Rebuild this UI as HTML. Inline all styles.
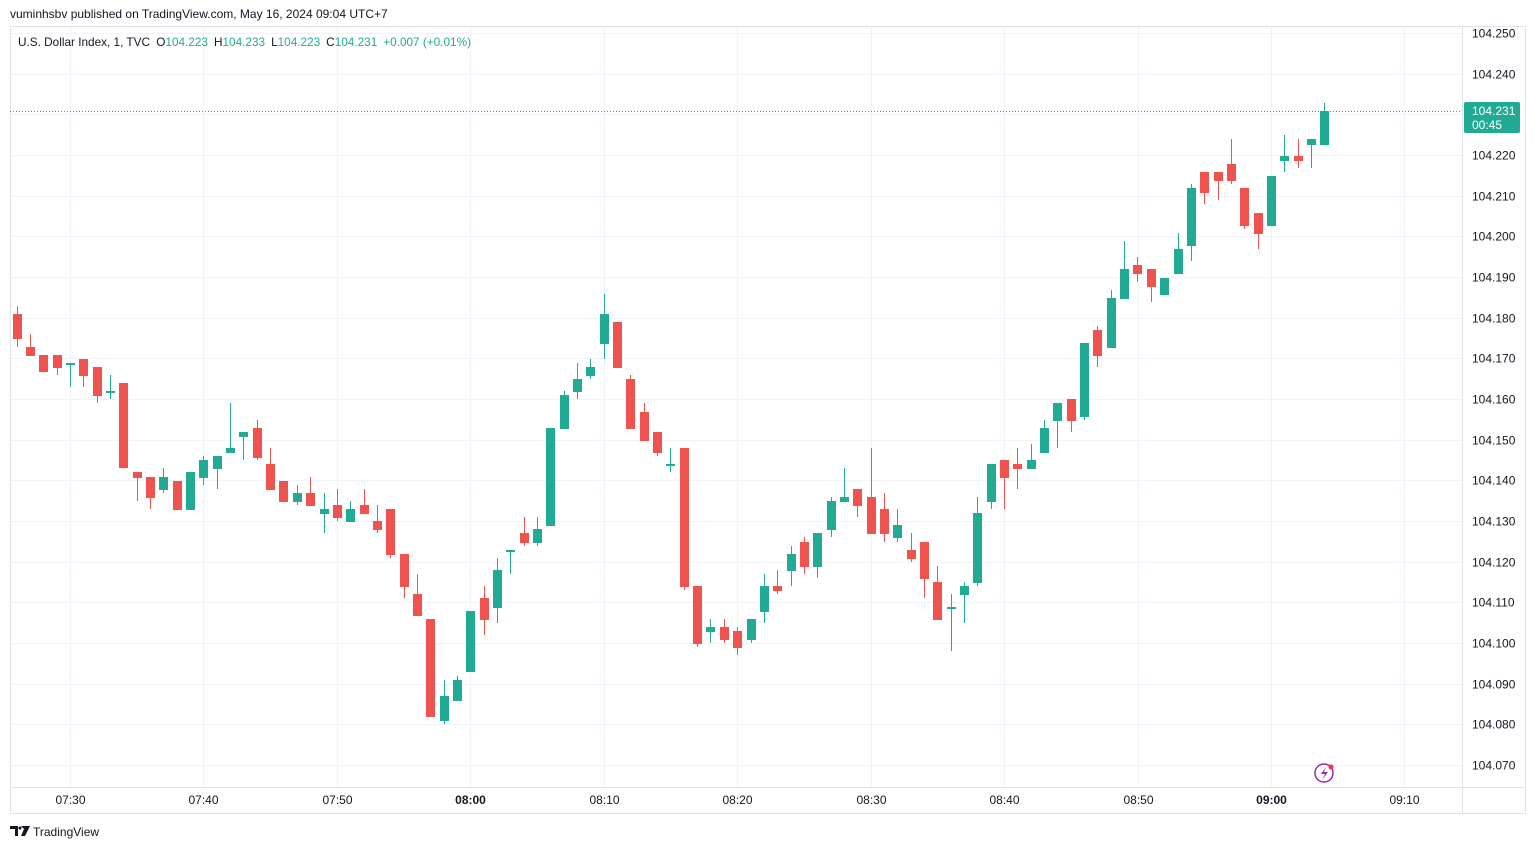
<!DOCTYPE html>
<html><head><meta charset="utf-8"><style>
body{margin:0;background:#fff;width:1534px;height:849px;overflow:hidden;font-family:"Liberation Sans",sans-serif;}
svg{position:absolute;left:0;top:0}
</style></head><body>
<svg id="s" width="1534" height="849" xmlns="http://www.w3.org/2000/svg" font-family="Liberation Sans, sans-serif">
<rect x="0" y="0" width="1534" height="849" fill="#fff"/>
<g id="grid"></g>
<rect x="10.5" y="26.5" width="1515" height="787" fill="none" stroke="#e0e3eb"/>
<line x1="1462.5" y1="26" x2="1462.5" y2="813" stroke="#e0e3eb"/>
<line x1="10" y1="787.5" x2="1525" y2="787.5" stroke="#e0e3eb"/>
<line x1="10" y1="111.5" x2="1462" y2="111.5" stroke="#22ab94" stroke-dasharray="1,2"/>
<g id="c"></g>
<g id="lbl" font-size="12" fill="#131722"></g>
<text x="10" y="18" font-size="12" fill="#131722">vuminhsbv published on TradingView.com, May 16, 2024 09:04 UTC+7</text>
<text x="18" y="46" font-size="11.8" fill="#131722" textLength="453" lengthAdjust="spacingAndGlyphs">U.S. Dollar Index, 1, TVC <tspan dx="3">O</tspan><tspan fill="#22ab94">104.223</tspan><tspan dx="6">H</tspan><tspan fill="#22ab94">104.233</tspan><tspan dx="6">L</tspan><tspan fill="#22ab94">104.223</tspan><tspan dx="6">C</tspan><tspan fill="#22ab94">104.231</tspan><tspan dx="6" fill="#22ab94">+0.007 (+0.01%)</tspan></text>
<rect x="1464" y="102" width="56" height="31" rx="2" fill="#22ab94"/>
<text x="1472" y="115" font-size="12" fill="#fff">104.231</text>
<text x="1472" y="129" font-size="12" fill="#fff">00:45</text>
<circle cx="1324" cy="773" r="9" fill="none" stroke="#9c27b0" stroke-width="1.5"/>
<path d="M1326 767 L1321 774 L1325 774 L1322 780 L1328 772 L1324 772 Z" fill="#9c27b0"/>
<circle cx="1331" cy="767" r="2.5" fill="#f23645"/>
<path d="M10 826 H18 V836 H15 V829 H10 Z M21 826 H30 L25 836 H21 L24 829 Z" fill="#131722"/>
<circle cx="20" cy="828" r="1.5" fill="#131722"/>
<text x="33" y="836" font-size="12" fill="#131722">TradingView</text>
</svg>
<script>
var NS="http://www.w3.org/2000/svg";
function el(p,t,a){var e=document.createElementNS(NS,t);for(var k in a)e.setAttribute(k,a[k]);p.appendChild(e);return e;}
var g=document.getElementById('grid'),L=document.getElementById('lbl');
var prices=["104.250","104.240","104.230","104.220","104.210","104.200","104.190","104.180","104.170","104.160","104.150","104.140","104.130","104.120","104.110","104.100","104.090","104.080","104.070"];
for(var k=0;k<prices.length;k++){var y=Math.round(33+40.67*k)+0.5;
 if(y<787)el(g,'line',{x1:10,y1:y,x2:1462,y2:y,stroke:'#f0f3fa'});
 if(prices[k]!="104.230"){var t=el(L,'text',{x:1472,y:y+4});t.textContent=prices[k];}}
var times=["07:30","07:40","07:50","08:00","08:10","08:20","08:30","08:40","08:50","09:00","09:10"];
for(var k=0;k<times.length;k++){var x=Math.round(70+133.44*k)+0.5;
 el(g,'line',{x1:x,y1:26,x2:x,y2:787,stroke:'#f0f3fa'});
 var t=el(L,'text',{x:x,y:804,'text-anchor':'middle'});t.textContent=times[k];
 if(times[k]=="08:00"||times[k]=="09:00")t.setAttribute('font-weight','bold');}
var D=[[314,339,306,347],[347,356,334,356],[355,372,355,372],[355,368,355,375],[364,363,363,387,'g'],[359,376,359,387],[367,396,367,403],[392,391,375,399,'g'],[383,468,383,468],[472,478,472,501],
[477,498,477,509],[490,477,468,493],[481,510,481,510],[510,472,472,510],[478,460,456,485],[469,456,456,489],[453,448,403,453],[437,432,432,460],[428,458,420,460],[464,490,448,490],
[481,502,481,502],[502,493,485,505],[493,506,477,506],[514,509,493,533],[505,518,489,521],[522,509,501,522],[505,514,489,514],[521,530,505,533],[509,555,509,558],[554,587,554,598],
[594,616,574,616],[619,717,619,717],[721,696,680,724],[701,680,676,701],[672,611,611,672],[598,620,586,635],[608,570,558,623],[551,550,550,574,'g'],[533,543,517,546],[543,529,517,546],
[526,428,428,526],[429,395,391,429],[392,379,363,399],[376,367,359,379],[344,314,294,359],[322,368,322,368],[379,429,375,429],[412,441,403,441],[432,453,432,456],[465,464,448,472,'g'],
[448,587,448,590],[586,644,586,647],[632,627,619,643],[627,640,619,643],[631,648,627,655],[640,619,619,643],[612,586,574,623],[586,591,570,594],[571,554,546,586],[542,567,537,574],
[567,533,533,578],[530,501,497,537],[502,497,468,502],[489,506,489,517],[497,534,448,534],[509,534,493,542],[538,525,509,542],[550,559,533,562],[542,579,542,598],[582,620,566,620],
[608,607,594,651,'g'],[595,586,582,623],[583,513,497,586],[502,464,464,509],[460,478,460,509],[464,469,448,489],[469,460,444,469],[453,428,420,453],[421,403,403,448],[399,421,399,432],
[417,343,343,420],[330,356,326,367],[348,298,290,348],[299,269,241,299],[265,274,257,282],[269,287,269,302],[295,278,278,295],[274,249,233,274],[246,188,184,261],[172,193,172,204],
[172,181,172,200],[164,181,139,184],[188,226,188,229],[213,234,213,249],[226,176,176,226],[161,156,135,172],[156,161,139,168],[145,139,139,168],[145,111,103,145]];
var C=document.getElementById('c');
for(var i=0;i<D.length;i++){var d=D[i],x=16.6+13.344*i;
 var up=d[4]=='g'||(d[4]==undefined&&d[1]<d[0]);var col=up?'#22ab94':'#ef5350';
 var bt=Math.min(d[0],d[1]),bb=Math.max(d[0],d[1]);if(bb-bt<2)bb=bt+2;
 var cx=Math.round(x);
 el(C,'rect',{x:cx,y:d[2],width:1,height:Math.max(1,d[3]-d[2]),fill:col});
 el(C,'rect',{x:cx-4,y:bt,width:9,height:bb-bt,fill:col});}
</script>
</body></html>
